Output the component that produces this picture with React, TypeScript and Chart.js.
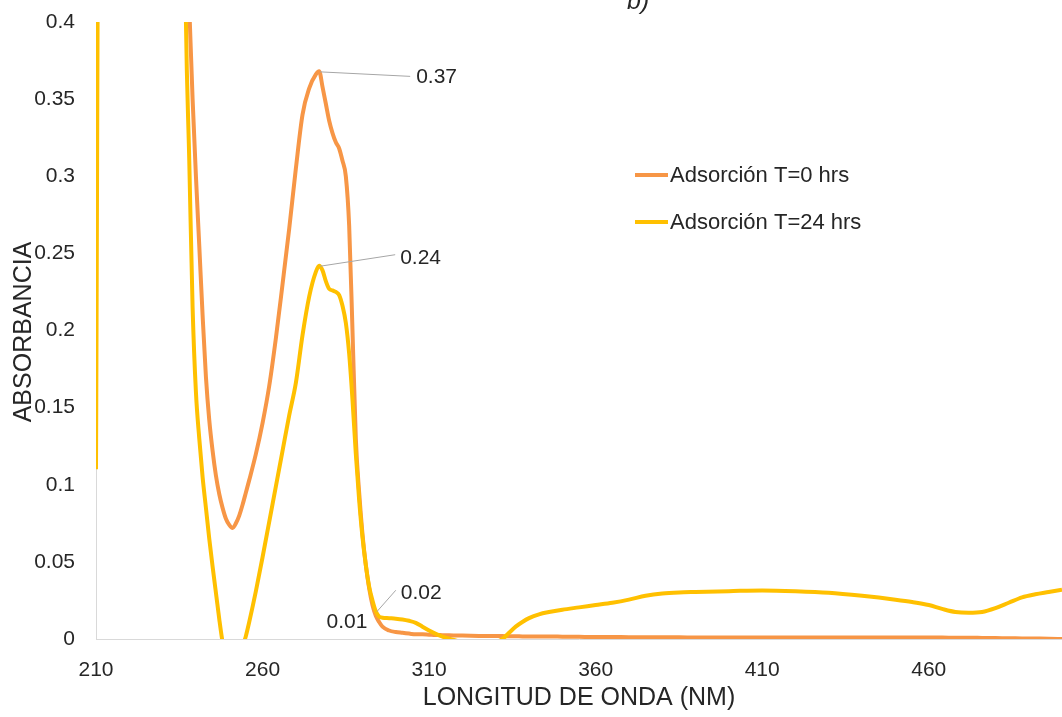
import React, { useEffect, useRef } from 'react';
import { Chart, registerables } from 'chart.js';

Chart.register(...registerables);

// Wavelength (nm) sampled points
const wavelengths = [
  210, 211, 236, 237, 238, 239, 240, 241, 242, 243, 244, 245, 246, 247, 248, 249, 250, 251, 252, 253,
  254, 255, 256, 258, 260, 262, 264, 266, 268, 270, 272, 274, 276, 277, 278, 279, 280, 281, 282, 283,
  284, 285, 286, 287, 288, 289, 290, 291, 292, 293, 294, 295, 296, 298, 300, 302, 304, 306, 308, 310,
  312, 314, 316, 320, 325, 330, 332, 334, 336, 338, 340, 343, 346, 350, 355, 360, 365, 370, 375, 380,
  385, 390, 400, 410, 420, 430, 440, 450, 455, 460, 464, 468, 472, 476, 480, 484, 488, 492, 496, 500,
];

// Adsorción T=0 hrs
const absorbanceT0 = [
  null, null, 0.55, 0.47, 0.41, 0.35, 0.3, 0.255, 0.21, 0.17, 0.142, 0.122, 0.106, 0.094, 0.085, 0.078, 0.074, 0.072, 0.075, 0.08,
  0.087, 0.095, 0.103, 0.12, 0.14, 0.164, 0.195, 0.23, 0.266, 0.305, 0.34, 0.357, 0.366, 0.368, 0.358, 0.347, 0.336, 0.328, 0.322, 0.318,
  0.31, 0.3, 0.268, 0.2, 0.13, 0.095, 0.068, 0.048, 0.033, 0.022, 0.015, 0.011, 0.008, 0.0055, 0.0045, 0.004, 0.0035, 0.003, 0.003, 0.0028,
  0.0026, 0.0025, 0.0024, 0.0022, 0.002, 0.0019, 0.0019, 0.0018, 0.0018, 0.0017, 0.0017, 0.0016, 0.0016, 0.0015, 0.0014, 0.0013, 0.0013, 0.0012, 0.0012, 0.0011,
  0.0011, 0.001, 0.001, 0.001, 0.001, 0.001, 0.001, 0.001, 0.001, 0.0009, 0.0009, 0.0008, 0.0008, 0.0007, 0.0006, 0.0005, 0.0004, 0.0003, 0.0002, 0.0,
];

// Adsorción T=24 hrs
const absorbanceT24 = [
  0.11, 0.6, 0.6, 0.4, 0.31, 0.215, 0.16, 0.13, 0.105, 0.085, 0.065, 0.047, 0.03, 0.013, -0.002, -0.012, -0.018, -0.02, -0.019, -0.013,
  -0.005, 0.002, 0.011, 0.031, 0.053, 0.076, 0.099, 0.122, 0.145, 0.166, 0.197, 0.222, 0.238, 0.242, 0.239, 0.232, 0.227, 0.226, 0.225, 0.223,
  0.216, 0.205, 0.185, 0.155, 0.12, 0.09, 0.066, 0.048, 0.034, 0.025, 0.018, 0.0145, 0.0138, 0.0135, 0.0132, 0.0127, 0.0118, 0.0105, 0.008, 0.0055,
  0.0033, 0.0015, 0.0002, -0.002, -0.003, -0.002, 0.0, 0.004, 0.008, 0.011, 0.0135, 0.016, 0.0175, 0.019, 0.0205, 0.022, 0.0235, 0.0255, 0.028, 0.0295,
  0.0302, 0.0305, 0.031, 0.0315, 0.031, 0.03, 0.028, 0.0255, 0.024, 0.022, 0.0195, 0.0175, 0.017, 0.0175, 0.02, 0.0235, 0.027, 0.029, 0.0305, 0.032,
];

const seriesLabels = ['Adsorción T=0 hrs', 'Adsorción T=24 hrs'];
const xTicks = [210, 260, 310, 360, 410, 460];
const yTicks = [0, 0.05, 0.1, 0.15, 0.2, 0.25, 0.3, 0.35, 0.4];
const xTitle = 'LONGITUD DE ONDA (NM)';
const yTitle = 'ABSORBANCIA';
const panelTag = 'b)';

// Data labels: series index, wavelength of labelled point, text
const labelSeries = [0, 1, 1, 0];
const labelWavelengths = [277, 277, 294, 296];
const labelTexts = ['0.37', '0.24', '0.02', '0.01'];

// Styles
const COLORS = ['#F79646', '#FFC000'];
const FONT = '"Liberation Sans", Arial, sans-serif';
const TEXT = '#262626';
const labelLayout = [
  { lx: 91, ly: 5, tx: 97, ty: 6, align: 'left', leader: true },
  { lx: 76, ly: -11, tx: 81, ty: -8, align: 'left', leader: true },
  { lx: 20, ly: -21, tx: 25, ty: -18, align: 'left', leader: true },
  { lx: 0, ly: 0, tx: -15, ty: -4, align: 'right', leader: false },
];

const decorPlugin = {
  id: 'decor',
  afterDatasetsDraw(chart: any) {
    const ctx = chart.ctx;
    const xs = chart.scales.x;
    const ys = chart.scales.y;
    ctx.save();
    // data labels
    labelTexts.forEach((text, k) => {
      const vals = labelSeries[k] === 0 ? absorbanceT0 : absorbanceT24;
      const i = wavelengths.indexOf(labelWavelengths[k]);
      const px = xs.getPixelForValue(labelWavelengths[k]);
      const py = ys.getPixelForValue(vals[i] as number);
      const st = labelLayout[k];
      if (st.leader) {
        ctx.strokeStyle = '#A6A6A6';
        ctx.lineWidth = 1;
        ctx.beginPath();
        ctx.moveTo(px + 1, py + 0.5);
        ctx.lineTo(px + st.lx, py + st.ly);
        ctx.stroke();
      }
      ctx.fillStyle = TEXT;
      ctx.font = `21px ${FONT}`;
      ctx.textAlign = st.align;
      ctx.textBaseline = 'middle';
      ctx.fillText(text, px + st.tx, py + st.ty);
    });
    // legend
    seriesLabels.forEach((lab, k) => {
      const y = 175 + k * 47;
      ctx.strokeStyle = COLORS[k];
      ctx.lineWidth = 4;
      ctx.lineCap = 'butt';
      ctx.beginPath();
      ctx.moveTo(635, y);
      ctx.lineTo(668, y);
      ctx.stroke();
      ctx.fillStyle = TEXT;
      ctx.font = `22px ${FONT}`;
      ctx.textAlign = 'left';
      ctx.textBaseline = 'middle';
      ctx.fillText(lab, 670, y + 1);
    });
    ctx.restore();
  },
  afterDraw(chart: any) {
    const ctx = chart.ctx;
    ctx.save();
    // y axis title
    ctx.translate(24, 332);
    ctx.rotate(-Math.PI / 2);
    ctx.fillStyle = TEXT;
    ctx.font = `25px ${FONT}`;
    ctx.textAlign = 'center';
    ctx.textBaseline = 'middle';
    ctx.fillText(yTitle, 0, 0);
    ctx.restore();
    ctx.save();
    ctx.fillStyle = TEXT;
    ctx.font = `italic 25px ${FONT}`;
    ctx.textAlign = 'left';
    ctx.textBaseline = 'alphabetic';
    ctx.fillText(panelTag, 627, 9);
    ctx.restore();
  },
};

export default function App() {
  const ref = useRef<HTMLCanvasElement | null>(null);
  useEffect(() => {
    if (!ref.current) return;
    const mk = (vals: (number | null)[]) => wavelengths.map((w, i) => ({ x: w, y: vals[i] }));
    const chart = new Chart(ref.current, {
      type: 'line',
      data: {
        datasets: [
          {
            label: seriesLabels[1],
            data: mk(absorbanceT24),
            borderColor: COLORS[1],
            borderWidth: 4,
            pointRadius: 0,
            cubicInterpolationMode: 'monotone',
            clip: 0,
            order: 0,
          },
          {
            label: seriesLabels[0],
            data: mk(absorbanceT0),
            borderColor: COLORS[0],
            borderWidth: 4,
            pointRadius: 0,
            cubicInterpolationMode: 'monotone',
            clip: 0,
            order: 1,
          },
        ],
      },
      options: {
        animation: false,
        responsive: false,
        devicePixelRatio: 1,
        layout: { padding: { top: 22, right: 0, left: 0, bottom: 0 } },
        plugins: { legend: { display: false }, tooltip: { enabled: false } },
        scales: {
          x: {
            type: 'linear',
            min: 210,
            max: 500,
            afterBuildTicks: (s: any) => {
              s.ticks = xTicks.map((v) => ({ value: v }));
            },
            afterFit: (s: any) => {
              s.height = 78;
              s.paddingLeft = 0;
              s.paddingRight = 0;
            },
            grid: { display: false, drawTicks: false },
            border: { display: true, color: '#D9D9D9', width: 1 },
            ticks: {
              padding: 19,
              color: TEXT,
              font: { family: FONT, size: 21 },
              maxRotation: 0,
              autoSkip: false,
              callback: (v: any) => String(v),
            },
            title: {
              display: true,
              text: xTitle,
              color: TEXT,
              font: { family: FONT, size: 25 },
              padding: { top: 0, bottom: 4 },
            },
          },
          y: {
            type: 'linear',
            min: 0,
            max: 0.4,
            afterBuildTicks: (s: any) => {
              s.ticks = yTicks.map((v) => ({ value: v }));
            },
            afterFit: (s: any) => {
              s.width = 96;
              s.paddingTop = 0;
              s.paddingBottom = 0;
            },
            grid: { display: false, drawTicks: false },
            border: { display: true, color: '#D9D9D9', width: 1 },
            ticks: {
              padding: 21,
              color: TEXT,
              font: { family: FONT, size: 21 },
              autoSkip: false,
              callback: (v: any) => String(+Number(v).toFixed(2)),
            },
          },
        },
      },
      plugins: [decorPlugin],
    } as any);
    return () => chart.destroy();
  }, []);
  return (
    <div style={{ position: 'absolute', left: 0, top: 0, width: 1062, height: 717, background: '#fff' }}>
      <canvas ref={ref} width={1062} height={717} style={{ display: 'block' }} />
    </div>
  );
}
